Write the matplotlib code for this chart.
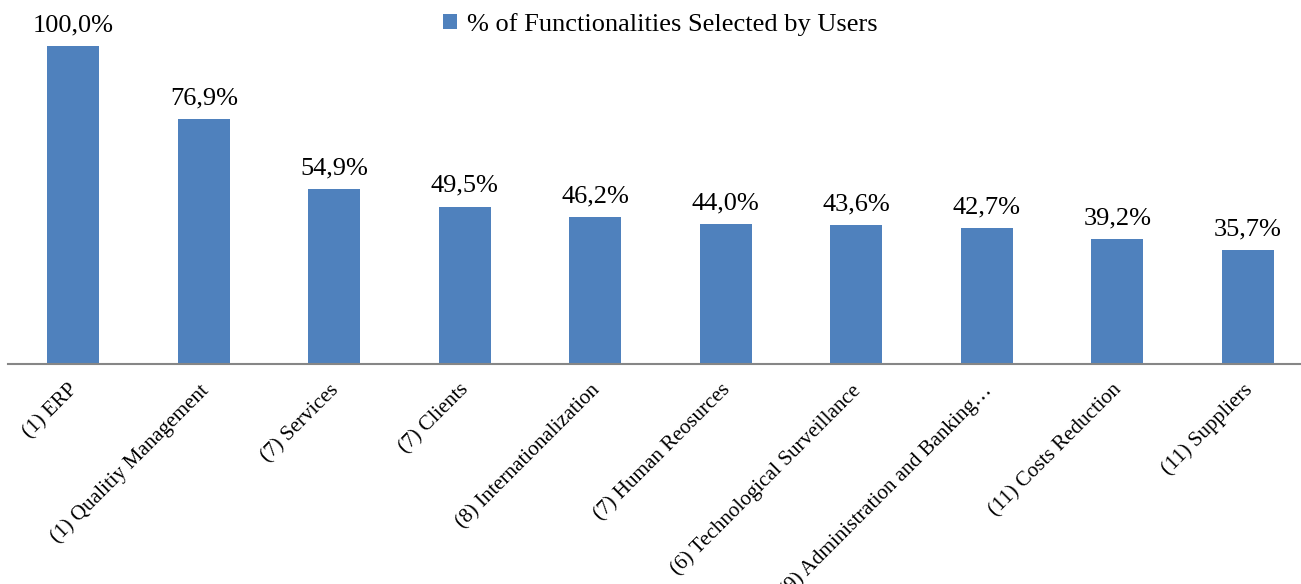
import matplotlib.pyplot as plt
import matplotlib.transforms as mtransforms
import numpy as np

plt.rcParams["font.family"] = ["Liberation Serif", "DejaVu Serif"]

categories = [
    "(1) ERP",
    "(1) Qualitiy Management",
    "(7) Services",
    "(7) Clients",
    "(8) Internationalization",
    "(7) Human Reosurces",
    "(6) Technological Surveillance",
    "(9) Administration and Banking\u2026",
    "(11) Costs Reduction",
    "(11) Suppliers",
]
values = [100.0, 76.9, 54.9, 49.5, 46.2, 44.0, 43.6, 42.7, 39.2, 35.7]
series_name = "% of Functionalities Selected by Users"

W, H = 1301, 584
fig = plt.figure(figsize=(W / 100, H / 100), dpi=100)
ax = fig.add_axes([8 / W, 220 / H, 1305 / W, 364 / H])

x = np.arange(len(categories))
bars = ax.bar(x, values, width=0.4, color="#4F81BD", label=series_name)

ax.set_xlim(-0.5, len(categories) - 0.5)
ax.set_ylim(0, 100 * 364 / 318)

for rect, v in zip(bars, values):
    ax.annotate(f"{v:.1f}%".replace(".", ","),
                (rect.get_x() + rect.get_width() / 2, rect.get_height()),
                xytext=(0, 7), textcoords="offset points",
                ha="center", va="bottom", fontsize=19)

ax.set_xticks(x)
ax.set_xticklabels(categories, rotation=45, ha="right", rotation_mode="anchor",
                   fontsize=15.2)
ax.tick_params(axis="x", length=0, pad=12)
ax.set_yticks([])

# nudge labels a little to the left
shift = mtransforms.ScaledTranslation(-5 / 100, 0, fig.dpi_scale_trans)
for lbl in ax.get_xticklabels():
    lbl.set_transform(lbl.get_transform() + shift)

for side in ["top", "right", "left"]:
    ax.spines[side].set_visible(False)
ax.spines["bottom"].set_color("#868686")
ax.spines["bottom"].set_linewidth(1.5)

ax.legend(loc="upper center", bbox_to_anchor=(0.5, 1.0), frameon=False,
          fontsize=19, handlelength=0.5, handleheight=0.5, handletextpad=0.4,
          borderaxespad=0.1)

fig.savefig("out.png", dpi=100)
